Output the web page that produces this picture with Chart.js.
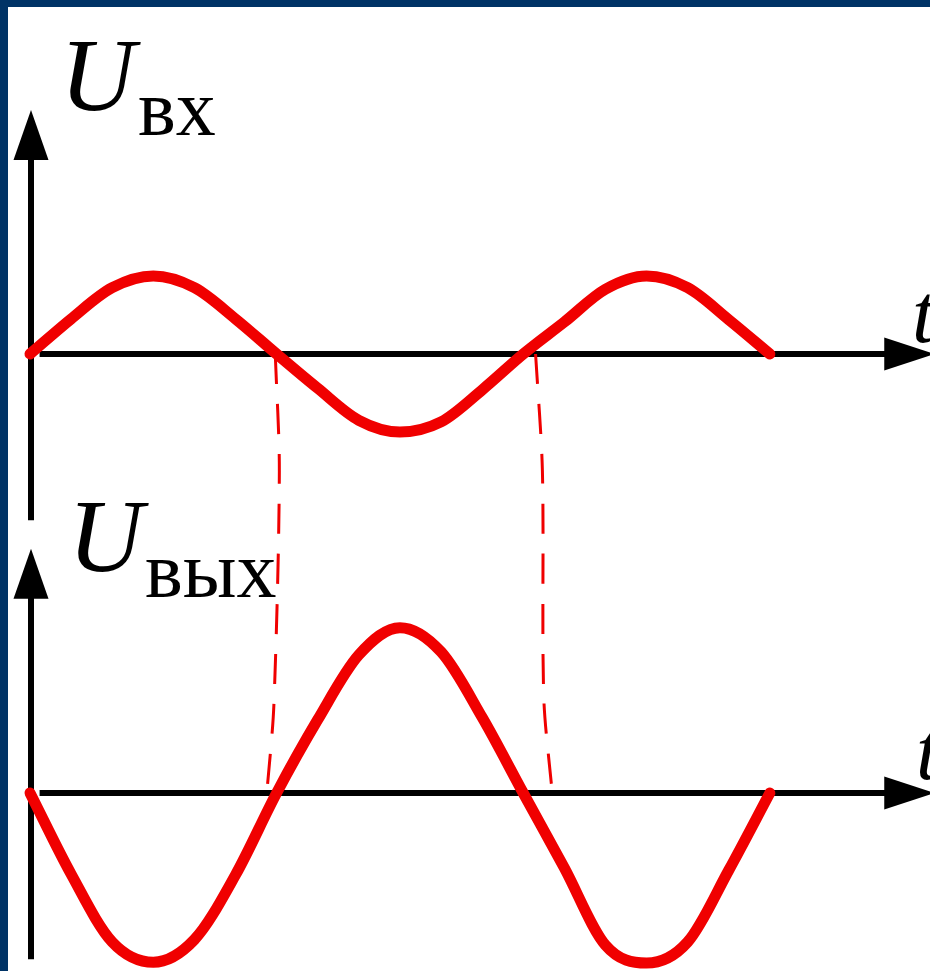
<!DOCTYPE html>
<html>
<head>
<meta charset="utf-8">
<script src="https://cdn.jsdelivr.net/npm/chart.js@4/dist/chart.umd.min.js"></script>
<style>
  html, body { margin: 0; padding: 0; background: #003366; }
  #wrap { position: absolute; left: 8px; top: 7px; width: 922px; height: 964px; background: #fff; }
</style>
</head>
<body>
<div id="wrap"><canvas id="scheme" width="922" height="964"></canvas></div>
<script>
// phase in degrees along t, values in units of the input amplitude
const phase = [0, 30, 60, 90, 120, 150, 180, 210, 240, 270, 300, 330, 360, 390, 420, 450, 480, 510, 540];
const uIn  = [0, 0.45, 0.85, 1.0, 0.85, 0.45, 0, -0.44, -0.85, -1.0, -0.87, -0.46, 0, 0.41, 0.83, 1.0, 0.85, 0.44, 0];
const uOut = [0, -1.04, -1.91, -2.17, -1.88, -1.05, 0, 0.94, 1.77, 2.12, 1.81, 0.97, 0, -0.96, -1.95, -2.18, -1.91, -0.99, 0];

// hand drawn guide lines from the top zero crossings down to the bottom axis
const guideA_phase = [179, 182, 178, 173];
const guideA_level = [0, -1.5, -4.5, -5.6];
const guideB_phase = [369, 374, 375, 381];
const guideB_level = [0, -1.5, -4.4, -5.6];

// axis extents (same units)
const axisLow = -2.13, axisHigh = 3.13;
const tStart = 7, tEnd = 660;

const RED = 'rgb(240,0,0)';
const SERIF = '"Liberation Serif", "Times New Roman", "DejaVu Serif", serif';
const pts = (xs, ys) => xs.map((x, i) => ({ x: x, y: ys[i] }));

const axesPlugin = {
  id: 'axes',
  beforeDatasetsDraw(chart) {
    const ctx = chart.ctx;
    const sx = chart.scales.x;
    ctx.save();
    ctx.strokeStyle = '#000';
    ctx.fillStyle = '#000';
    ctx.lineWidth = 6;
    ['yTop', 'yBot'].forEach(id => {
      const sy = chart.scales[id];
      const x0 = sx.getPixelForValue(0) + 1;
      const y0 = sy.getPixelForValue(0);
      const yTip = sy.getPixelForValue(axisHigh);
      const yEnd = sy.getPixelForValue(axisLow);
      // vertical axis
      ctx.beginPath();
      ctx.moveTo(x0, yEnd);
      ctx.lineTo(x0, yTip + 45);
      ctx.stroke();
      ctx.beginPath();
      ctx.moveTo(x0, yTip);
      ctx.lineTo(x0 - 17.5, yTip + 50);
      ctx.lineTo(x0 + 17.5, yTip + 50);
      ctx.closePath();
      ctx.fill();
      // horizontal axis
      const xs = sx.getPixelForValue(tStart);
      const xTip = sx.getPixelForValue(tEnd);
      ctx.beginPath();
      ctx.moveTo(xs, y0);
      ctx.lineTo(xTip - 45, y0);
      ctx.stroke();
      ctx.beginPath();
      ctx.moveTo(xTip, y0);
      ctx.lineTo(xTip - 50, y0 - 16.5);
      ctx.lineTo(xTip - 50, y0 + 16.5);
      ctx.closePath();
      ctx.fill();
    });
    ctx.restore();
  },
  afterDatasetsDraw(chart) {
    const ctx = chart.ctx;
    ctx.save();
    ctx.fillStyle = '#000';
    ctx.textBaseline = 'alphabetic';
    ctx.font = 'italic 104px ' + SERIF;
    ctx.fillText('U', 52, 103);
    ctx.fillText('U', 60, 564);
    ctx.font = '80px ' + SERIF;
    ctx.fillText('вх', 130, 128);
    ctx.fillText('вых', 137, 590);
    ctx.font = 'italic 84px ' + SERIF;
    ctx.fillText('t', 904, 335);
    ctx.fillText('t', 908, 772);
    ctx.restore();
  }
};

new Chart(document.getElementById('scheme'), {
  type: 'line',
  data: {
    datasets: [
      { label: 'Uвх', data: pts(phase, uIn), yAxisID: 'yTop',
        borderColor: RED, borderWidth: 11, borderCapStyle: 'round', borderJoinStyle: 'round',
        cubicInterpolationMode: 'monotone', pointRadius: 0, clip: false },
      { label: 'Uвых', data: pts(phase, uOut), yAxisID: 'yBot',
        borderColor: RED, borderWidth: 11, borderCapStyle: 'round', borderJoinStyle: 'round',
        cubicInterpolationMode: 'monotone', pointRadius: 0, clip: false },
      { label: 'guide 1', data: pts(guideA_phase, guideA_level), yAxisID: 'yTop',
        borderColor: RED, borderWidth: 3, borderDash: [30, 20], tension: 0.3, pointRadius: 0 },
      { label: 'guide 2', data: pts(guideB_phase, guideB_level), yAxisID: 'yTop',
        borderColor: RED, borderWidth: 3, borderDash: [30, 20], tension: 0.3, pointRadius: 0 }
    ]
  },
  options: {
    responsive: false,
    animation: false,
    layout: { padding: 0 },
    plugins: { legend: { display: false }, tooltip: { enabled: false } },
    scales: {
      x: { type: 'linear', display: false, min: -16.06, max: 656.9 },
      yTop: { type: 'linear', display: false, min: -7.91, max: 4.449 },
      yBot: { type: 'linear', display: false, min: -2.282, max: 10.077 }
    }
  },
  plugins: [axesPlugin]
});
</script>
</body>
</html>
